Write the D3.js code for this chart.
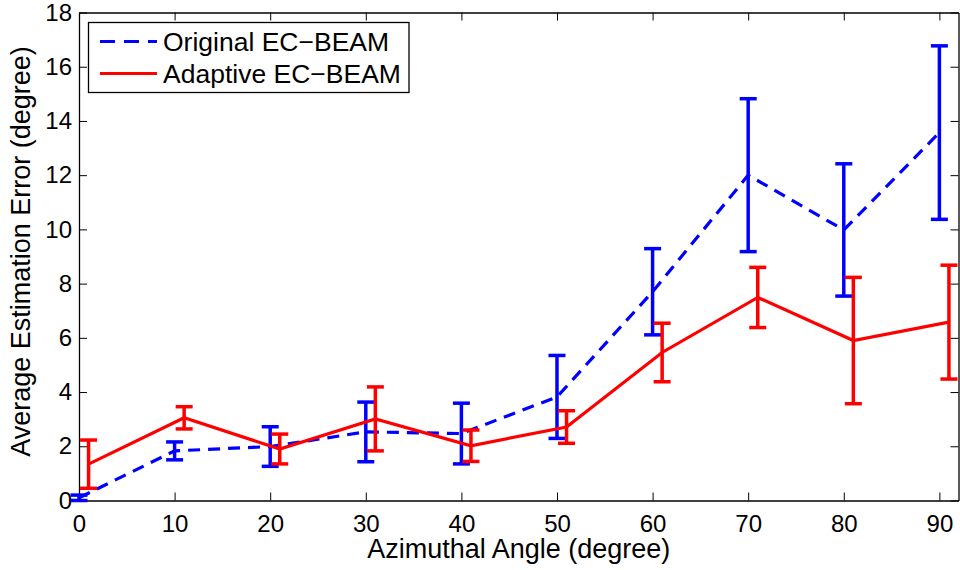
<!DOCTYPE html>
<html>
<head>
<meta charset="utf-8">
<script src="https://cdn.jsdelivr.net/npm/d3@7"></script>
<style>
  body { margin: 0; background: #fff; }
  svg { display: block; font-family: "Liberation Sans", Arial, sans-serif; }
</style>
</head>
<body>
<svg id="chart" width="960" height="570"></svg>
<script>
// data
const angles = [0, 10, 20, 30, 40, 50, 60, 70, 80, 90]
const originalMean = [0.1, 1.83, 1.99, 2.53, 2.47, 3.82, 7.7, 12.0, 9.98, 13.57]
const originalErr = [0.1, 0.33, 0.73, 1.1, 1.12, 1.53, 1.59, 2.82, 2.44, 3.2]
const adaptiveMean = [1.34, 3.05, 1.9, 3.01, 2.02, 2.71, 5.46, 7.49, 5.9, 6.58]
const adaptiveErr = [0.89, 0.41, 0.55, 1.18, 0.58, 0.6, 1.08, 1.11, 2.33, 2.1]
const xTicks = [0, 10, 20, 30, 40, 50, 60, 70, 80, 90]
const yTicks = [0, 2, 4, 6, 8, 10, 12, 14, 16, 18]

const margin = {top: 12.5, right: 1.5, bottom: 69.5, left: 79}
const W = 960, H = 570
const width = W - margin.left - margin.right
const height = H - margin.top - margin.bottom

const svg = d3.select('#chart')
const g = svg.append('g').attr('transform', `translate(${margin.left},${margin.top})`)

const x = d3.scaleLinear().domain([0, 92]).range([0, width])
const y = d3.scaleLinear().domain([0, 18]).range([height, 0])

const series = [
    {name: 'Original EC\u2212BEAM', color: '#0000ff', dash: '12,8', offset: 0, mean: originalMean, err: originalErr},
    {name: 'Adaptive EC\u2212BEAM', color: '#ff0000', dash: null, offset: 1, mean: adaptiveMean, err: adaptiveErr}
]

// axes box with inward ticks
const tickLen = 8
const tickFont = 24
const labelFont = 27
const legendFont = 26.5

const xAxis = g.append('g').attr('transform', `translate(0,${height})`)
    .call(d3.axisBottom(x).tickValues(xTicks).tickSize(-tickLen).tickPadding(31).tickSizeOuter(0))
const xTop = g.append('g')
    .call(d3.axisTop(x).tickValues(xTicks).tickSize(-tickLen).tickFormat('').tickSizeOuter(0))
const yAxis = g.append('g')
    .call(d3.axisLeft(y).tickValues(yTicks).tickSize(-tickLen).tickPadding(7).tickSizeOuter(0))
const yRight = g.append('g').attr('transform', `translate(${width},0)`)
    .call(d3.axisRight(y).tickValues(yTicks).tickSize(-tickLen).tickFormat('').tickSizeOuter(0))

;[xAxis, xTop, yAxis, yRight].forEach(a => {
    a.select('.domain').attr('stroke', '#000').attr('stroke-width', 1.3)
    a.selectAll('.tick line').attr('stroke', '#000').attr('stroke-width', 1)
    a.selectAll('.tick text').attr('fill', '#000').style('font-size', tickFont + 'px')
        .style('font-family', '"Liberation Sans", Arial, sans-serif')
})
xAxis.selectAll('.tick text').attr('dy', 0)

// lines and error bars
const line = d3.line()
series.forEach(s => {
    const pts = angles.map((a, i) => [x(a + s.offset), y(s.mean[i])])
    g.append('path')
        .attr('d', line(pts))
        .attr('fill', 'none')
        .attr('stroke', s.color)
        .attr('stroke-width', 3.2)
        .attr('stroke-dasharray', s.dash)

    const eb = g.append('g').attr('stroke', s.color).attr('stroke-width', 3.5).attr('fill', 'none')
    angles.forEach((a, i) => {
        const cx = x(a + s.offset)
        const lo = y(s.mean[i] - s.err[i])
        const hi = y(s.mean[i] + s.err[i])
        eb.append('line').attr('x1', cx).attr('x2', cx).attr('y1', lo).attr('y2', hi)
        eb.append('line').attr('x1', cx - 8.5).attr('x2', cx + 8.5).attr('y1', lo).attr('y2', lo)
        eb.append('line').attr('x1', cx - 8.5).attr('x2', cx + 8.5).attr('y1', hi).attr('y2', hi)
    })
})

// legend
const legend = svg.append('g')
legend.append('rect')
    .attr('x', 88.5).attr('y', 22.5).attr('width', 320.5).attr('height', 70)
    .attr('fill', '#fff').attr('stroke', '#000').attr('stroke-width', 1.3)
series.forEach((s, i) => {
    const ly = 41.5 + i * 32
    legend.append('line')
        .attr('x1', 100).attr('x2', 157).attr('y1', ly).attr('y2', ly)
        .attr('stroke', s.color).attr('stroke-width', 3.2)
        .attr('stroke-dasharray', s.dash ? '15,9' : null)
    legend.append('text')
        .attr('x', 163).attr('y', ly).attr('dy', '0.36em')
        .style('font-size', legendFont + 'px')
        .text(s.name)
})

// axis titles
svg.append('text')
    .attr('x', margin.left + width / 2).attr('y', 558)
    .attr('text-anchor', 'middle')
    .style('font-size', labelFont + 'px')
    .text('Azimuthal Angle (degree)')
svg.append('text')
    .attr('transform', 'translate(30,251.5) rotate(-90)')
    .attr('text-anchor', 'middle')
    .style('font-size', labelFont + 'px')
    .text('Average Estimation Error (degree)')
</script>
</body>
</html>
